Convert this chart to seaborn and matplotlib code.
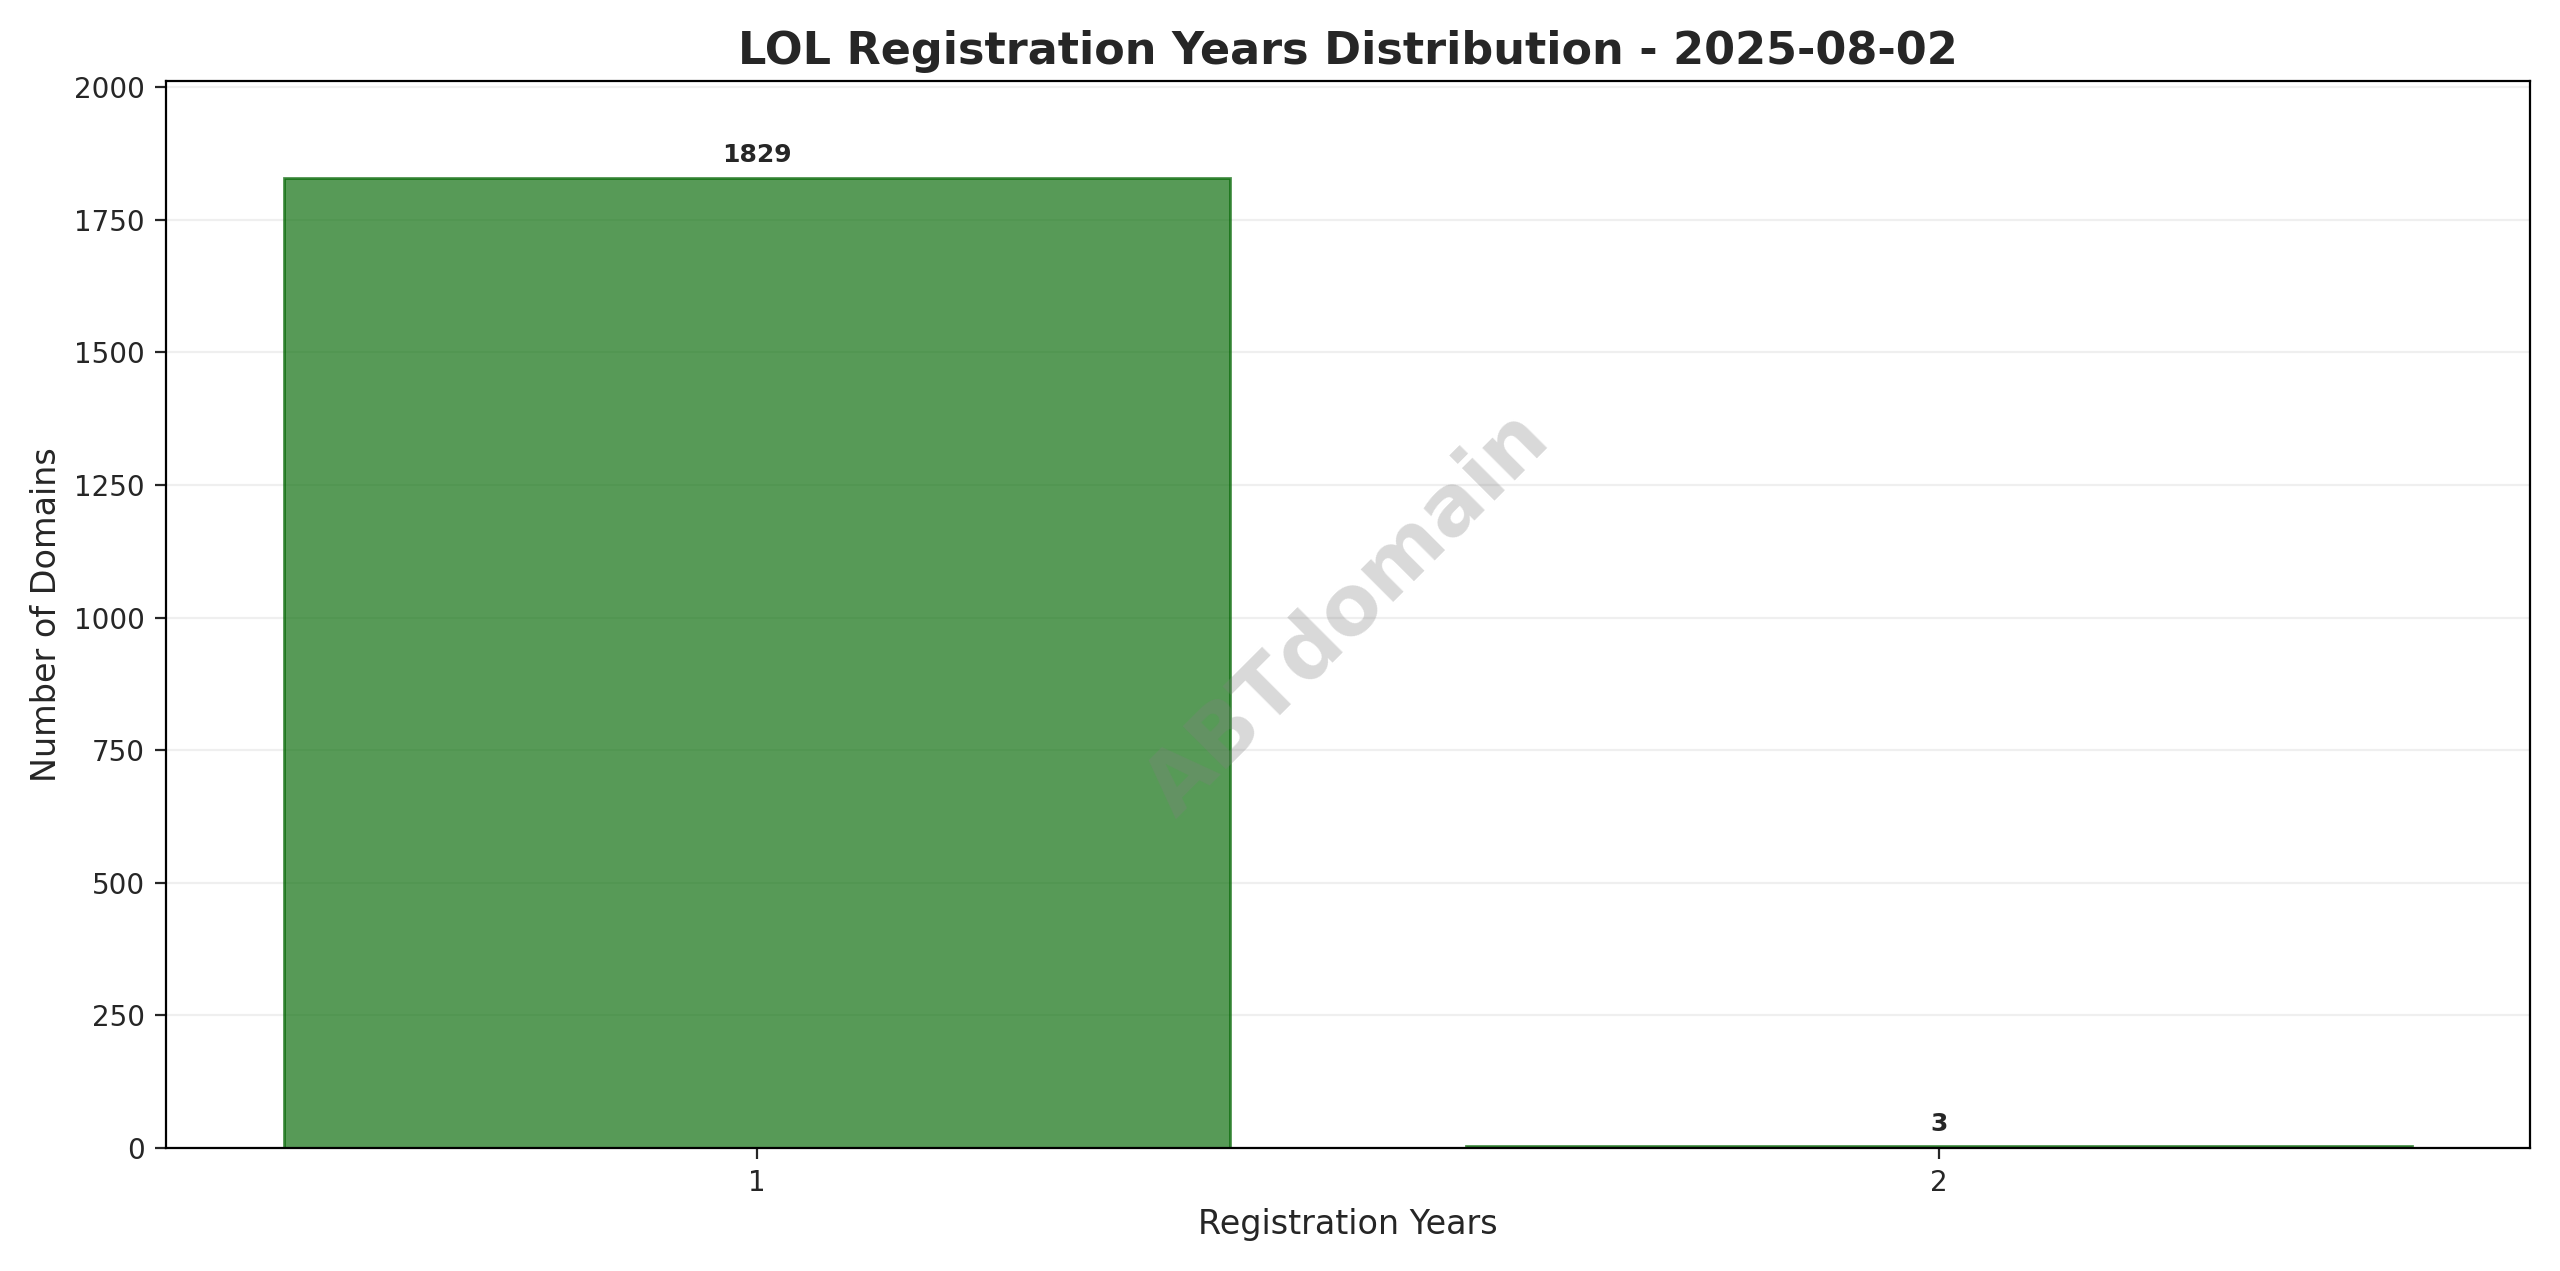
import matplotlib
matplotlib.use("Agg")
import matplotlib.pyplot as plt
import seaborn as sns
import pandas as pd

years = ["1", "2"]
counts = [1829, 3]

sns.set_style("white")
plt.rcParams['font.family'] = ['DejaVu Sans']
df = pd.DataFrame({"years": years, "count": counts})

fig, ax = plt.subplots(figsize=(12.8, 6.355), dpi=200)
sns.barplot(data=df, x="years", y="count", color="green", alpha=0.7,
            edgecolor="darkgreen", linewidth=1, ax=ax, width=0.8)
for i, c in enumerate(counts):
    ax.text(i, c + 2012 * 0.01, str(c), ha="center", va="bottom", fontsize=9, fontweight="bold")
ax.set_ylim(0, max(counts) * 1.1)
ax.set_title("LOL Registration Years Distribution - 2025-08-02", fontsize=16, fontweight="bold")
ax.set_xlabel("Registration Years", fontsize=12)
ax.set_ylabel("Number of Domains", fontsize=12)
ax.yaxis.grid(True, alpha=0.3)
ax.set_axisbelow(True)
for s in ax.spines.values():
    s.set_visible(True); s.set_color("black")
ax.tick_params(left=True, bottom=True, length=4)
ax.text(0.5, 0.5, "ABTdomain", transform=ax.transAxes, fontsize=30, color="gray",
        alpha=0.3, rotation=45, ha="center", va="center", fontweight="bold")
plt.tight_layout()
plt.savefig("out.png", dpi=200)
